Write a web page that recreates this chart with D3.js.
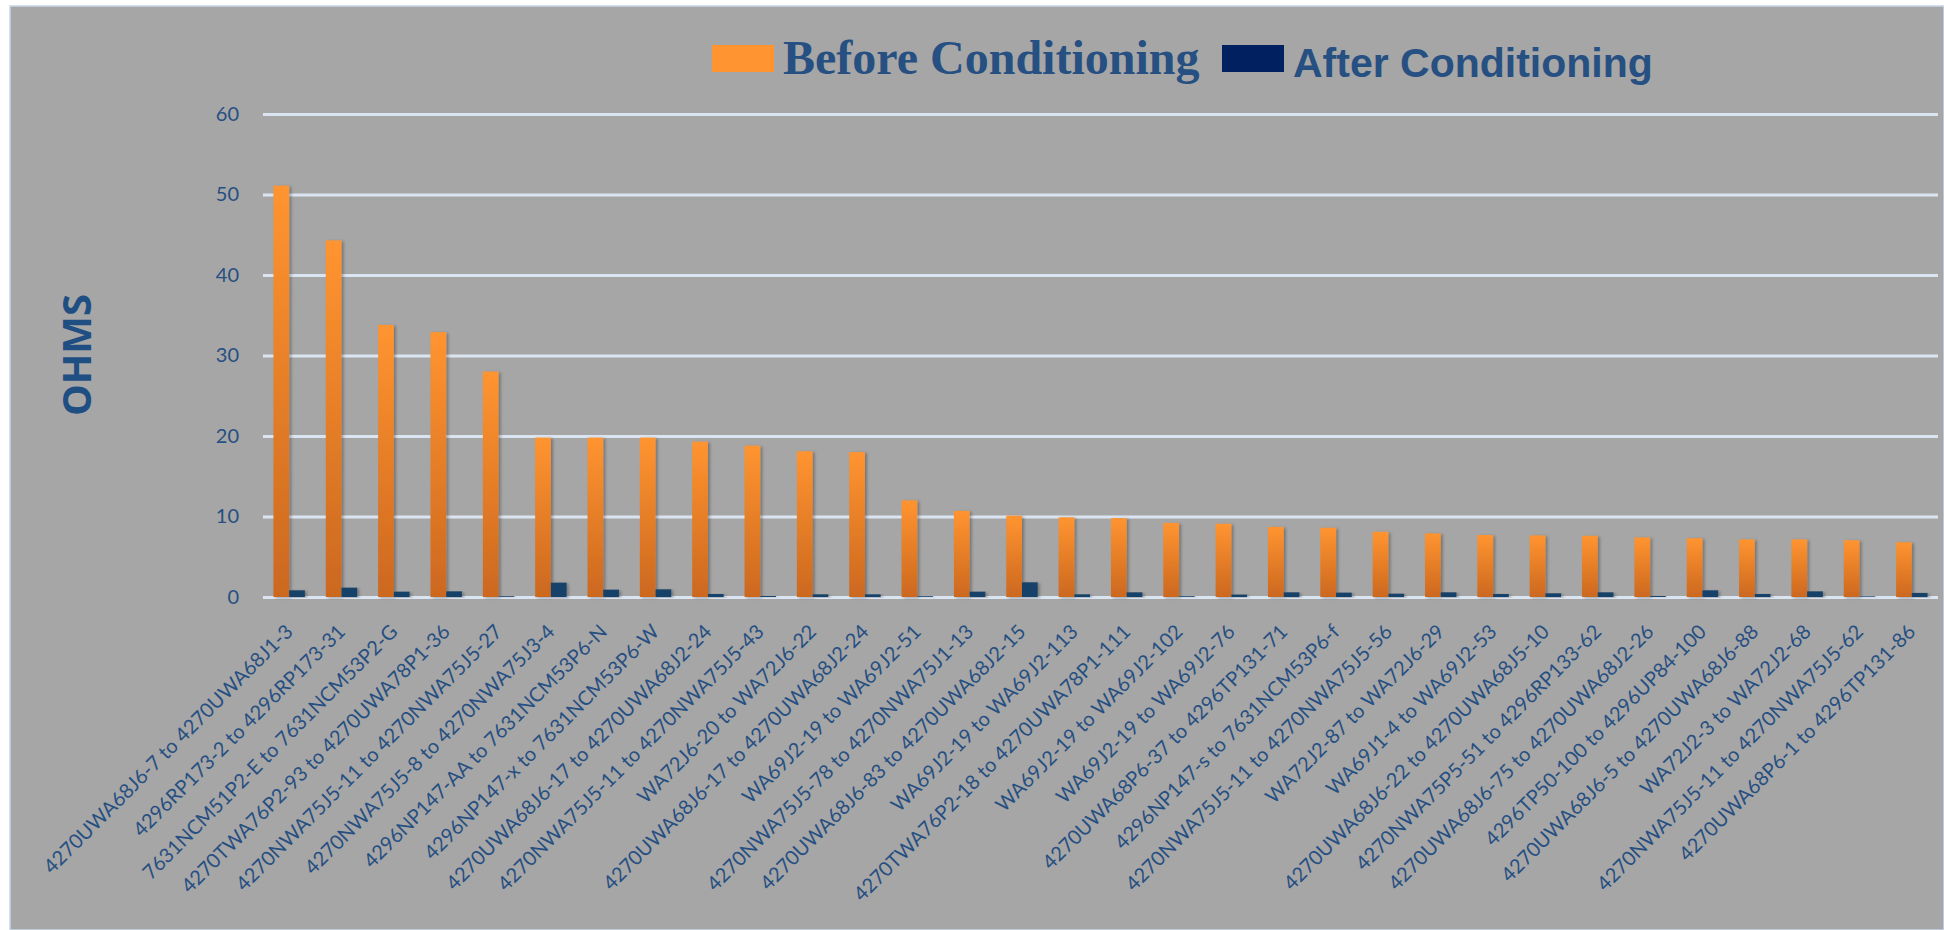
<!DOCTYPE html>
<html>
<head>
<meta charset="utf-8">
<script src="https://cdn.jsdelivr.net/npm/d3@7"></script>
<style>
  body { margin: 0; background: #ffffff; }
  svg { display: block; }
</style>
</head>
<body>
<div id="chart"></div>
<script>
//chart data
var categories = [
    "4270UWA68J6-7 to 4270UWA68J1-3",
    "4296RP173-2 to 4296RP173-31",
    "7631NCM51P2-E to 7631NCM53P2-G",
    "4270TWA76P2-93 to 4270UWA78P1-36",
    "4270NWA75J5-11 to 4270NWA75J5-27",
    "4270NWA75J5-8 to 4270NWA75J3-4",
    "4296NP147-AA to 7631NCM53P6-N",
    "4296NP147-x to 7631NCM53P6-W",
    "4270UWA68J6-17 to 4270UWA68J2-24",
    "4270NWA75J5-11 to 4270NWA75J5-43",
    "WA72J6-20 to WA72J6-22",
    "4270UWA68J6-17 to 4270UWA68J2-24",
    "WA69J2-19 to WA69J2-51",
    "4270NWA75J5-78 to 4270NWA75J1-13",
    "4270UWA68J6-83 to 4270UWA68J2-15",
    "WA69J2-19 to WA69J2-113",
    "4270TWA76P2-18 to 4270UWA78P1-111",
    "WA69J2-19 to WA69J2-102",
    "WA69J2-19 to WA69J2-76",
    "4270UWA68P6-37 to 4296TP131-71",
    "4296NP147-s to 7631NCM53P6-f",
    "4270NWA75J5-11 to 4270NWA75J5-56",
    "WA72J2-87 to WA72J6-29",
    "WA69J1-4 to WA69J2-53",
    "4270UWA68J6-22 to 4270UWA68J5-10",
    "4270NWA75P5-51 to 4296RP133-62",
    "4270UWA68J6-75 to 4270UWA68J2-26",
    "4296TP50-100 to 4296UP84-100",
    "4270UWA68J6-5 to 4270UWA68J6-88",
    "WA72J2-3 to WA72J2-68",
    "4270NWA75J5-11 to 4270NWA75J5-62",
    "4270UWA68P6-1 to 4296TP131-86"
];
var beforeValues = [51.1, 44.3, 33.8, 32.9, 28.0, 19.8, 19.8, 19.8, 19.3, 18.8, 18.1, 18.0,
    12.0, 10.7, 10.1, 9.9, 9.8, 9.2, 9.1, 8.7, 8.6, 8.1, 7.9, 7.7, 7.65, 7.6, 7.4, 7.3,
    7.15, 7.15, 7.05, 6.8];
var afterValues = [0.83, 1.16, 0.66, 0.7, 0.1, 1.78, 0.91, 0.95, 0.37, 0.12, 0.33, 0.33,
    0.1, 0.66, 1.82, 0.33, 0.58, 0.1, 0.3, 0.58, 0.54, 0.41, 0.58, 0.37, 0.46, 0.58, 0.12,
    0.83, 0.37, 0.7, 0.08, 0.5];
var seriesNames = ["Before Conditioning", "After Conditioning"];
var yTicks = [0, 10, 20, 30, 40, 50, 60];

//svg dimensions
var svgWidth = 1944;
var svgHeight = 930;
//plot area
var plot = { left: 263, right: 1938, top: 114, bottom: 597 };
var textBlue = "#264f82";

var svg = d3.select("#chart").append("svg")
    .attr("width", svgWidth)
    .attr("height", svgHeight);

//gradients for bars
var defs = svg.append("defs");
var orangeGrad = defs.append("linearGradient")
    .attr("id", "orangeGrad")
    .attr("x1", 0).attr("y1", 0).attr("x2", 0).attr("y2", 1);
orangeGrad.append("stop").attr("offset", "0%").attr("stop-color", "#ff9430");
orangeGrad.append("stop").attr("offset", "100%").attr("stop-color", "#cc681f");
var shadow = defs.append("filter").attr("id", "shadow")
    .attr("x", "-20%").attr("y", "-5%").attr("width", "160%").attr("height", "115%");
shadow.append("feDropShadow")
    .attr("dx", 2).attr("dy", 1).attr("stdDeviation", 1.5)
    .attr("flood-color", "#000").attr("flood-opacity", 0.3);

//background panel
svg.append("rect")
    .attr("x", 10)
    .attr("y", 6)
    .attr("width", svgWidth - 10)
    .attr("height", svgHeight - 6)
    .attr("fill", "#a6a6a6")
    .attr("stroke", "#c8d6ea")
    .attr("stroke-width", 1.5);

//scales
var x0 = d3.scaleBand()
    .domain(d3.range(categories.length))
    .range([plot.left, plot.right])
    .paddingInner(0.4)
    .paddingOuter(0.2);
var x1 = d3.scaleBand()
    .domain([0, 1])
    .range([0, x0.bandwidth()]);
var yScale = d3.scaleLinear()
    .domain([0, 60])
    .range([plot.bottom, plot.top]);

//gridlines
var grid = svg.append("g")
    .attr("transform", `translate(${plot.left}, 0)`)
    .call(d3.axisLeft(yScale)
        .tickValues(yTicks)
        .tickSize(-(plot.right - plot.left))
        .tickFormat(""));
grid.select(".domain").remove();
grid.selectAll(".tick line")
    .attr("stroke", "#dbe4f1")
    .attr("stroke-width", 3);

//y axis labels
var yAxis = svg.append("g")
    .attr("transform", `translate(${plot.left - 24}, 0)`)
    .call(d3.axisLeft(yScale).tickValues(yTicks).tickSize(0).tickPadding(0));
yAxis.select(".domain").remove();
yAxis.selectAll("text")
    .attr("fill", textBlue)
    .style("font-family", "Lato, 'Open Sans', sans-serif")
    .style("font-size", "20px");

//bars
var groups = svg.selectAll(".group")
    .data(categories)
    .enter()
    .append("g")
    .attr("class", "group")
    .attr("transform", (d, i) => `translate(${x0(i)}, 0)`);
groups.append("rect")
    .attr("x", x1(0))
    .attr("y", (d, i) => yScale(beforeValues[i]))
    .attr("width", x1.bandwidth())
    .attr("height", (d, i) => yScale(0) - yScale(beforeValues[i]))
    .attr("fill", "url(#orangeGrad)")
    .attr("filter", "url(#shadow)");
groups.append("rect")
    .attr("x", x1(1))
    .attr("y", (d, i) => yScale(afterValues[i]))
    .attr("width", x1.bandwidth())
    .attr("height", (d, i) => yScale(0) - yScale(afterValues[i]))
    .attr("fill", "#184269")
    .attr("filter", "url(#shadow)");

//x axis labels, rotated 45 degrees
var xAxis = svg.append("g")
    .attr("transform", `translate(0, ${plot.bottom})`)
    .call(d3.axisBottom(x0).tickSize(0).tickFormat(i => categories[i]));
xAxis.select(".domain").remove();
xAxis.selectAll("text")
    .attr("fill", textBlue)
    .style("font-family", "Lato, 'Open Sans', sans-serif")
    .style("font-size", "20px")
    .attr("text-anchor", "end")
    .attr("y", 0)
    .attr("dy", "0.35em")
    .attr("transform", "translate(0, 31) rotate(-45)");

//y axis title
svg.append("text")
    .attr("transform", "translate(91, 355) rotate(-90)")
    .attr("text-anchor", "middle")
    .attr("fill", "#1f4e83")
    .style("font-family", "'Open Sans', sans-serif")
    .style("font-weight", "bold")
    .style("font-size", "40px")
    .text("OHMS");

//legend
var legendSwatch = [{ x: 712, color: "#ff9430" }, { x: 1222, color: "#002060" }];
var legendText = [
    { x: 783, y: 74, family: "'Liberation Serif', serif", size: 48 },
    { x: 1293, y: 77, family: "'Liberation Sans', sans-serif", size: 41 }
];
seriesNames.forEach(function (name, i) {
    svg.append("rect")
        .attr("x", legendSwatch[i].x)
        .attr("y", 45)
        .attr("width", 62)
        .attr("height", 27)
        .attr("fill", legendSwatch[i].color);
    svg.append("text")
        .attr("x", legendText[i].x)
        .attr("y", legendText[i].y)
        .attr("fill", "#264f82")
        .style("font-family", legendText[i].family)
        .style("font-weight", "bold")
        .style("font-size", legendText[i].size + "px")
        .text(name);
});
</script>
</body>
</html>
